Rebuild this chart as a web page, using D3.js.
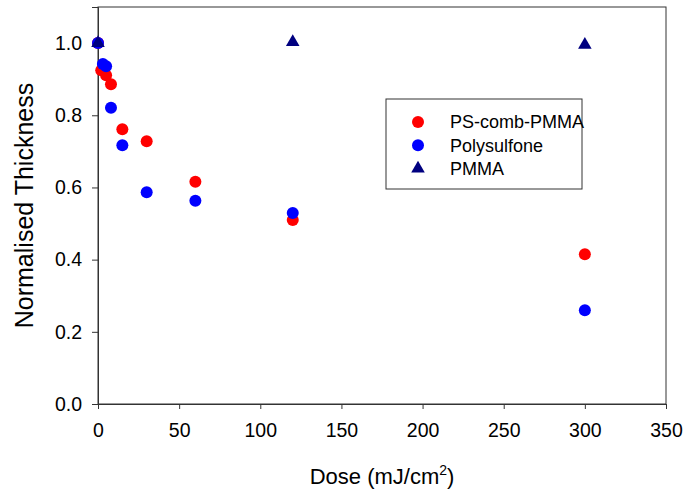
<!DOCTYPE html>
<html>
<head>
<meta charset="utf-8">
<script src="https://cdn.jsdelivr.net/npm/d3@7"></script>
<style>
  body { margin: 0; background: #fff; }
  text { font-family: "Liberation Sans", Arial, sans-serif; fill: #000; }
</style>
</head>
<body>
<div id="chart"></div>
<script>
// data
var combDose  = [0, 2, 5, 8, 15, 30, 60, 120, 300];
var combThick = [1.0, 0.925, 0.911, 0.886, 0.761, 0.728, 0.616, 0.51, 0.415];
var psfDose   = [0, 3, 5, 8, 15, 30, 60, 120, 300];
var psfThick  = [1.0, 0.942, 0.936, 0.821, 0.717, 0.587, 0.563, 0.529, 0.26];
var pmmaDose  = [0, 120, 300];
var pmmaThick = [1.0, 1.003, 0.995];
var xTicks = [0, 50, 100, 150, 200, 250, 300, 350];
var yTicks = [0, 0.2, 0.4, 0.6, 0.8, 1.0];
var seriesNames = ["PS-comb-PMMA", "Polysulfone", "PMMA"];

var svg = d3.select("#chart").append("svg")
    .attr("width", 684)
    .attr("height", 490),
    margin = {top: 7, right: 18, bottom: 86, left: 98},
    width = 684 - margin.left - margin.right,
    height = 490 - margin.top - margin.bottom;

var g = svg.append("g")
    .attr("transform", "translate(" + margin.left + "," + margin.top + ")");

var x = d3.scaleLinear().domain([0, 350]).range([0, width]);
var y = d3.scaleLinear().domain([0, 1.1]).range([height, 0]);

// frame
g.append("rect")
    .attr("width", width)
    .attr("height", height)
    .attr("fill", "none")
    .attr("stroke", "#333")
    .attr("stroke-width", 1);

var xAxis = g.append("g")
    .attr("transform", "translate(0," + height + ")")
    .call(d3.axisBottom(x).tickValues(xTicks).tickSize(5).tickPadding(14).tickFormat(d3.format("d")));

var yAxis = g.append("g")
    .call(d3.axisLeft(y).tickValues(yTicks).tickSize(6).tickPadding(10).tickFormat(d3.format(".1f")));

[xAxis, yAxis].forEach(function(a) {
    a.select(".domain").attr("stroke", "#333");
    a.selectAll(".tick line").attr("stroke", "#333");
    a.selectAll(".tick text")
        .style("font-size", "19.5px")
        .style("font-family", "Liberation Sans, Arial, sans-serif")
        .attr("fill", "#000");
});

// axis titles
var xt = svg.append("text")
    .attr("x", margin.left + width / 2)
    .attr("y", 484)
    .attr("text-anchor", "middle")
    .style("font-size", "22px");
xt.append("tspan").text("Dose (mJ/cm");
xt.append("tspan").attr("dy", -9).style("font-size", "14px").text("2");
xt.append("tspan").attr("dy", 9).text(")");

svg.append("text")
    .attr("transform", "translate(33," + (margin.top + height / 2) + ")rotate(-90)")
    .attr("text-anchor", "middle")
    .style("font-size", "25px")
    .text("Normalised Thickness");

// points
function pairs(xs, ys) { return xs.map(function(d, i) { return [d, ys[i]]; }); }

g.selectAll(".comb")
    .data(pairs(combDose, combThick))
    .enter().append("circle")
    .attr("class", "comb")
    .attr("cx", function(d) { return x(d[0]); })
    .attr("cy", function(d) { return y(d[1]); })
    .attr("r", 6)
    .attr("fill", "#ff0000");

g.selectAll(".psf")
    .data(pairs(psfDose, psfThick))
    .enter().append("circle")
    .attr("class", "psf")
    .attr("cx", function(d) { return x(d[0]); })
    .attr("cy", function(d) { return y(d[1]); })
    .attr("r", 6)
    .attr("fill", "#0000ff");

var tri = d3.symbol().type(d3.symbolTriangle).size(80);

g.selectAll(".pmma")
    .data(pairs(pmmaDose, pmmaThick))
    .enter().append("path")
    .attr("class", "pmma")
    .attr("d", tri)
    .attr("transform", function(d) { return "translate(" + x(d[0]) + "," + y(d[1]) + ")"; })
    .attr("fill", "#000080");

// legend
var legend = svg.append("g").attr("transform", "translate(386,99)");
legend.append("rect")
    .attr("width", 196)
    .attr("height", 90)
    .attr("fill", "#fff")
    .attr("stroke", "#333");

var colors = ["#ff0000", "#0000ff", "#000080"];
seriesNames.forEach(function(name, i) {
    var ly = 23 + i * 23.3;
    if (i < 2) {
        legend.append("circle").attr("cx", 32).attr("cy", ly).attr("r", 6).attr("fill", colors[i]);
    } else {
        legend.append("path").attr("d", tri).attr("transform", "translate(32," + ly + ")").attr("fill", colors[i]);
    }
    legend.append("text")
        .attr("x", 64)
        .attr("y", ly)
        .attr("dy", "0.35em")
        .style("font-size", "18px")
        .text(name);
});
</script>
</body>
</html>
